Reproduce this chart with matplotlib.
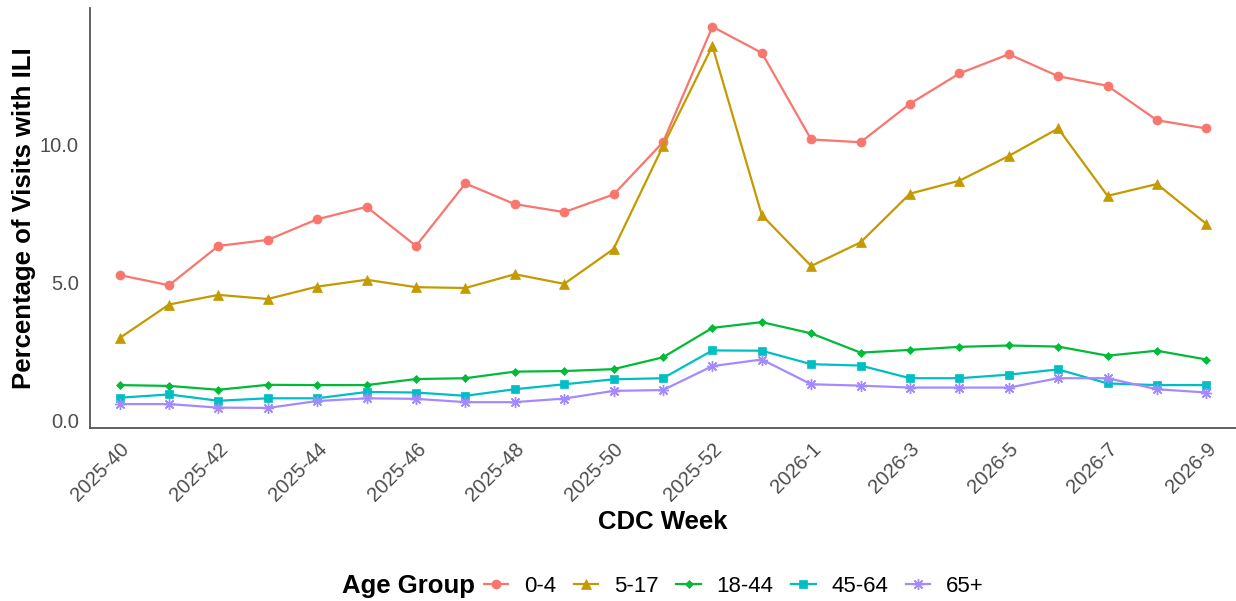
import matplotlib
matplotlib.use("Agg")
import matplotlib.pyplot as plt

plt.rcParams['font.family'] = ['Liberation Sans', 'DejaVu Sans']

weeks = ["2025-40", "2025-41", "2025-42", "2025-43", "2025-44", "2025-45", "2025-46",
         "2025-47", "2025-48", "2025-49", "2025-50", "2025-51", "2025-52", "2025-53",
         "2026-1", "2026-2", "2026-3", "2026-4", "2026-5", "2026-6", "2026-7", "2026-8", "2026-9"]

age_groups = ["0-4", "5-17", "18-44", "45-64", "65+"]

ili_0_4 = [5.27, 4.9, 6.33, 6.55, 7.3, 7.75, 6.33, 8.6, 7.85, 7.56, 8.2, 10.1, 14.3, 13.35,
           10.2, 10.1, 11.5, 12.6, 13.3, 12.5, 12.15, 10.9, 10.6]
ili_5_17 = [2.98, 4.2, 4.55, 4.4, 4.85, 5.1, 4.83, 4.8, 5.3, 4.95, 6.22, 9.96, 13.6, 7.45,
            5.6, 6.46, 8.23, 8.7, 9.6, 10.6, 8.15, 8.58, 7.13]
ili_18_44 = [1.27, 1.24, 1.1, 1.28, 1.27, 1.27, 1.49, 1.52, 1.76, 1.78, 1.85, 2.28, 3.35, 3.56,
             3.15, 2.45, 2.55, 2.66, 2.71, 2.67, 2.34, 2.52, 2.2]
ili_45_64 = [0.81, 0.93, 0.7, 0.79, 0.79, 1.02, 1.0, 0.88, 1.12, 1.3, 1.48, 1.52, 2.53, 2.52,
             2.03, 1.98, 1.52, 1.52, 1.65, 1.84, 1.33, 1.27, 1.27]
ili_65 = [0.58, 0.58, 0.45, 0.44, 0.69, 0.79, 0.77, 0.65, 0.65, 0.78, 1.06, 1.09, 1.96, 2.2,
          1.3, 1.25, 1.18, 1.18, 1.18, 1.52, 1.52, 1.12, 1.0]

series = [ili_0_4, ili_5_17, ili_18_44, ili_45_64, ili_65]
colors = ["#F8766D", "#C49A00", "#00BA38", "#00BFC4", "#A58AFF"]
markers = ["o", "^", "D", "s", (8, 2, 0)]
msizes = [6.5, 7, 4.5, 6, 8]

fig = plt.figure(figsize=(12.36, 6.01), dpi=100)
ax = fig.add_axes([90 / 1236, 1 - 428 / 601, 1 - 90 / 1236, (428 - 8) / 601])

x = list(range(len(weeks)))
handles = []
for vals, c, m, ms, lab in zip(series, colors, markers, msizes, age_groups):
    ln, = ax.plot(x, vals, color=c, lw=1.6, marker=m, markersize=ms,
                  markeredgewidth=1.0 if m == (8, 2, 0) else 0.5,
                  markeredgecolor=c, markerfacecolor=c, label=lab)
    handles.append(ln)

ax.set_xlim(-0.6, 22.6)
ax.set_ylim(-0.29, 14.98)
tick_idx = [i for i in x if i % 2 == 0]
ax.set_xticks(tick_idx)
ax.set_xticklabels([weeks[i] for i in tick_idx], rotation=45, ha="right",
                   va="top", rotation_mode="anchor", fontsize=14.5, color="#4D4D4D")
ax.set_yticks([0, 5, 10])
ax.set_yticklabels(["0.0", "5.0", "10.0"], fontsize=14.5, color="#4D4D4D")
ax.tick_params(length=0, pad=8)
ax.tick_params(axis="x", pad=8)

for s in ["top", "right"]:
    ax.spines[s].set_visible(False)
for s in ["left", "bottom"]:
    ax.spines[s].set_color("#555555")
    ax.spines[s].set_linewidth(1.3)

ax.set_xlabel("CDC Week", fontsize=18.5, fontweight="bold", labelpad=4)
ax.set_ylabel("Percentage of Visits with ILI", fontsize=18.5, fontweight="bold", labelpad=3)

fig.text(475 / 1236, 1 - 586 / 601, "Age Group", fontsize=18.5, fontweight="bold",
         ha="right", va="center")
fig.legend(handles=handles, labels=age_groups, loc="center left",
           bbox_to_anchor=(484 / 1236, 1 - 586 / 601), ncol=5, frameon=False,
           fontsize=16, handlelength=1.1, handletextpad=0.7, columnspacing=0.8,
           borderpad=0, borderaxespad=0)

fig.savefig("out.png", dpi=100)
